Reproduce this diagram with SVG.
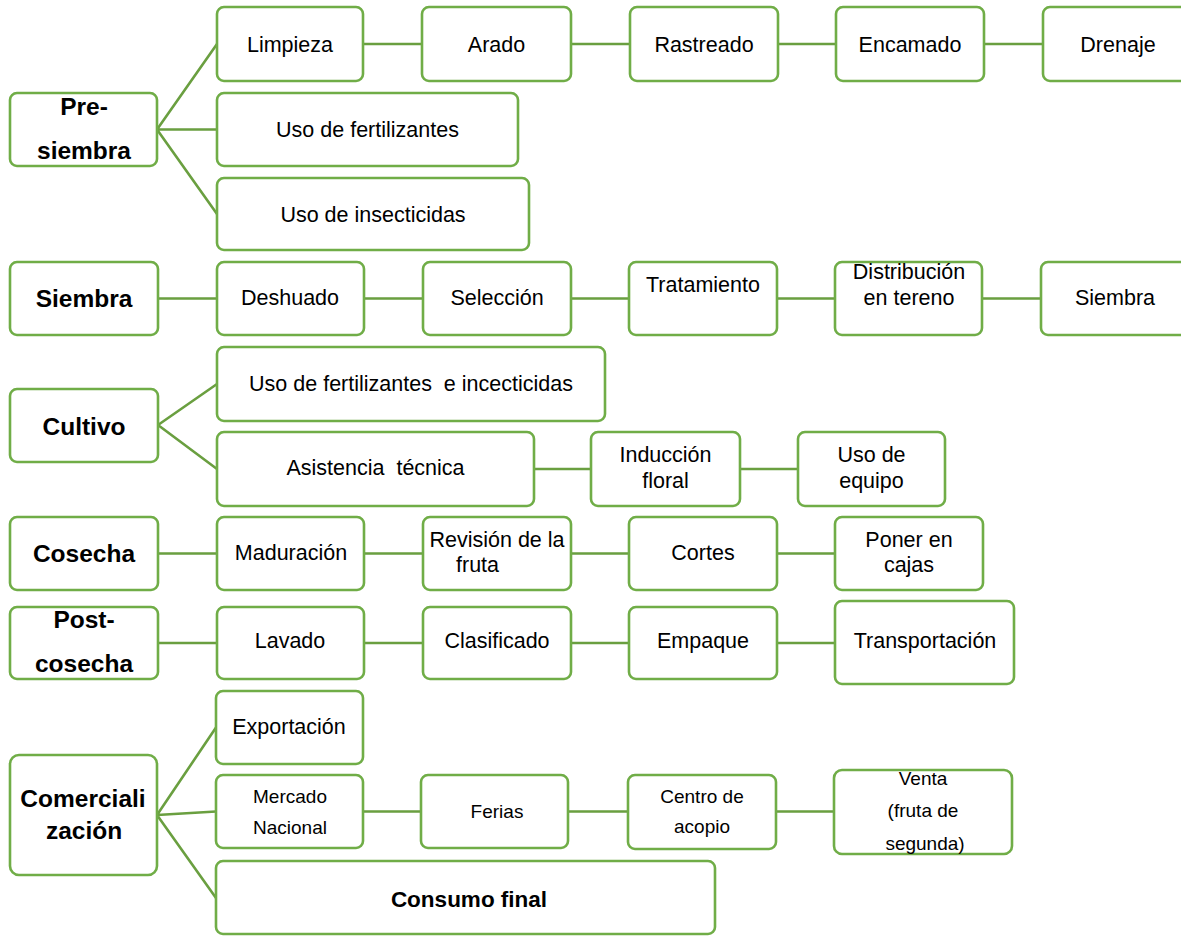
<svg xmlns="http://www.w3.org/2000/svg" width="1181" height="936" viewBox="0 0 1181 936">
  <style>
    rect { fill: #ffffff; stroke: #70AD47; stroke-width: 2.6; }
    .link { stroke: #6A9F40; stroke-width: 2.6; fill: none; }
    text { font-family: "Liberation Sans", Arial, sans-serif; font-size: 21.5px; fill: #000000; text-anchor: middle; white-space: pre; }
    .stage { font-weight: bold; font-size: 24.5px; }
    .small { font-size: 19px; }
  </style>
  <rect width="1181" height="936" style="fill:#ffffff;stroke:none"/>

  <g id="connectors">
    <!-- Pre-siembra fan -->
    <path class="link" d="M157,129.5 L217,44 M157,129.5 L217,129.5 M157,129.5 L217,214"/>
    <path class="link" d="M363,44 H422 M571,44 H630 M778,44 H836 M984,44 H1043"/>
    <!-- Siembra chain -->
    <path class="link" d="M158,298.5 H217 M364,298.5 H423 M571,298.5 H629 M777,298.5 H835 M982,298.5 H1041"/>
    <!-- Cultivo fan -->
    <path class="link" d="M158,425 L217,384 M158,425 L217,469 M534,469 H591 M740,469 H798"/>
    <!-- Cosecha chain -->
    <path class="link" d="M158,553.5 H217 M364,553.5 H423 M571,553.5 H629 M777,553.5 H835"/>
    <!-- Post-cosecha chain -->
    <path class="link" d="M158,643 H217 M364,643 H423 M571,643 H629 M777,643 H835"/>
    <!-- Comercialización fan -->
    <path class="link" d="M157,815 L216,727.5 M157,815 L216,811.5 M157,815 L216,898 M363,811.5 H421 M568,811.5 H628 M776,811.5 H834"/>
  </g>

  <!-- Pre-siembra -->
  <g id="pre-siembra"><rect x="10" y="93" width="147" height="73" rx="7"/><text class="stage" x="84" y="115">Pre-</text><text class="stage" x="84" y="159">siembra</text></g>
  <g id="limpieza"><rect x="217" y="7" width="146" height="74" rx="7"/><text x="290" y="52">Limpieza</text></g>
  <g id="arado"><rect x="422" y="7" width="149" height="74" rx="7"/><text x="496.5" y="52">Arado</text></g>
  <g id="rastreado"><rect x="630" y="7" width="148" height="74" rx="7"/><text x="704" y="52">Rastreado</text></g>
  <g id="encamado"><rect x="836" y="7" width="148" height="74" rx="7"/><text x="910" y="52">Encamado</text></g>
  <g id="drenaje"><rect x="1043" y="7" width="148" height="74" rx="7"/><text x="1118" y="52">Drenaje</text></g>
  <g id="uso-fertilizantes"><rect x="217" y="93" width="301" height="73" rx="7"/><text x="367.5" y="137">Uso de fertilizantes</text></g>
  <g id="uso-insecticidas"><rect x="217" y="178" width="312" height="72" rx="7"/><text x="373" y="222">Uso de insecticidas</text></g>

  <!-- Siembra -->
  <g id="siembra"><rect x="10" y="262" width="148" height="73" rx="7"/><text class="stage" x="84" y="307">Siembra</text></g>
  <g id="deshuado"><rect x="217" y="262" width="147" height="73" rx="7"/><text x="290" y="305">Deshuado</text></g>
  <g id="seleccion"><rect x="423" y="262" width="148" height="73" rx="7"/><text x="497" y="305">Selección</text></g>
  <g id="tratamiento"><rect x="629" y="262" width="148" height="73" rx="7"/><text x="703" y="292">Tratamiento</text></g>
  <g id="distribucion"><rect x="835" y="262" width="147" height="73" rx="7"/><text x="909" y="279">Distribución</text><text x="909" y="305">en tereno</text></g>
  <g id="siembra-final"><rect x="1041" y="262" width="148" height="73" rx="7"/><text x="1115" y="305">Siembra</text></g>

  <!-- Cultivo -->
  <g id="cultivo"><rect x="10" y="389" width="148" height="73" rx="7"/><text class="stage" x="84" y="435">Cultivo</text></g>
  <g id="fertilizantes-incecticidas"><rect x="217" y="347" width="388" height="74" rx="7"/><text x="411" y="391" xml:space="preserve">Uso de fertilizantes  e incecticidas</text></g>
  <g id="asistencia"><rect x="217" y="432" width="317" height="74" rx="7"/><text x="375.5" y="475" xml:space="preserve">Asistencia  técnica</text></g>
  <g id="induccion"><rect x="591" y="432" width="149" height="74" rx="7"/><text x="665.5" y="462">Inducción</text><text x="665.5" y="488">floral</text></g>
  <g id="uso-equipo"><rect x="798" y="432" width="147" height="74" rx="7"/><text x="871.5" y="462">Uso de</text><text x="871.5" y="488">equipo</text></g>

  <!-- Cosecha -->
  <g id="cosecha"><rect x="10" y="517" width="148" height="73" rx="7"/><text class="stage" x="84" y="562">Cosecha</text></g>
  <g id="maduracion"><rect x="217" y="517" width="147" height="73" rx="7"/><text x="291" y="560">Maduración</text></g>
  <g id="revision"><rect x="423" y="517" width="148" height="73" rx="7"/><text x="497" y="547">Revisión de la</text><text x="456" y="572" style="text-anchor:start">fruta</text></g>
  <g id="cortes"><rect x="629" y="517" width="148" height="73" rx="7"/><text x="703" y="560">Cortes</text></g>
  <g id="cajas"><rect x="835" y="517" width="148" height="73" rx="7"/><text x="909" y="547">Poner en</text><text x="909" y="572">cajas</text></g>

  <!-- Post-cosecha -->
  <g id="post-cosecha"><rect x="10" y="607" width="148" height="72" rx="7"/><text class="stage" x="84" y="628">Post-</text><text class="stage" x="84" y="672">cosecha</text></g>
  <g id="lavado"><rect x="217" y="607" width="147" height="72" rx="7"/><text x="290" y="648">Lavado</text></g>
  <g id="clasificado"><rect x="423" y="607" width="148" height="72" rx="7"/><text x="497" y="648">Clasificado</text></g>
  <g id="empaque"><rect x="629" y="607" width="148" height="72" rx="7"/><text x="703" y="648">Empaque</text></g>
  <g id="transportacion"><rect x="835" y="601" width="179" height="83" rx="7"/><text x="925" y="648">Transportación</text></g>

  <!-- Comercialización -->
  <g id="comercializacion"><rect x="10" y="755" width="147" height="120" rx="9"/><text class="stage" x="83" y="807">Comerciali</text><text class="stage" x="84" y="839">zación</text></g>
  <g id="exportacion"><rect x="216" y="691" width="147" height="73" rx="7"/><text x="289" y="734">Exportación</text></g>
  <g id="mercado-nacional"><rect x="216" y="775" width="147" height="73" rx="7"/><text class="small" x="290" y="803">Mercado</text><text class="small" x="290" y="834">Nacional</text></g>
  <g id="ferias"><rect x="421" y="775" width="147" height="73" rx="7"/><text class="small" x="497" y="818">Ferias</text></g>
  <g id="centro-acopio"><rect x="628" y="775" width="148" height="74" rx="7"/><text class="small" x="702" y="803">Centro de</text><text class="small" x="702" y="833">acopio</text></g>
  <g id="venta"><rect x="834" y="770" width="178" height="84" rx="8"/><text class="small" x="923" y="785">Venta</text><text class="small" x="923" y="817">(fruta de</text><text class="small" x="925" y="850">segunda)</text></g>
  <g id="consumo-final"><rect x="216" y="861" width="499" height="73" rx="7"/><text class="stage" x="469" y="907" style="font-size:22.5px">Consumo final</text></g>
</svg>
